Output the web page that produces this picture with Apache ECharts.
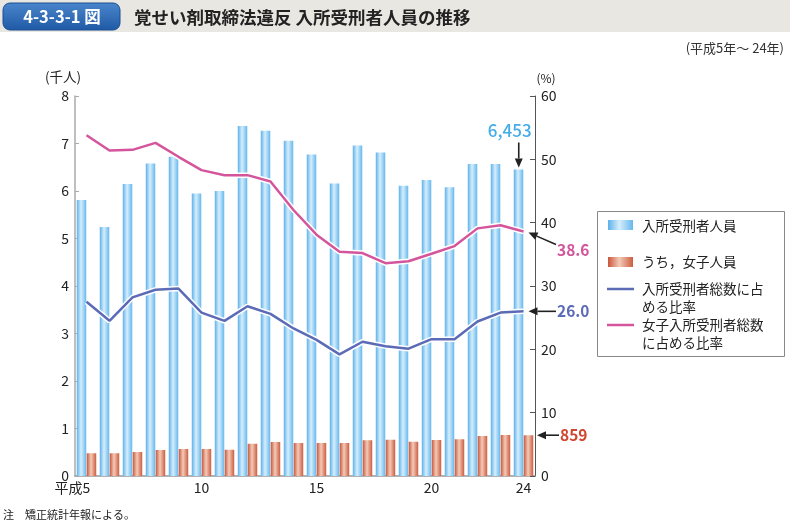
<!DOCTYPE html>
<html>
<head>
<meta charset="utf-8">
<script src="https://cdn.jsdelivr.net/npm/echarts@6/dist/echarts.min.js"></script>
<style>
  html, body { margin: 0; padding: 0; background: #fff; }
  #main { width: 792px; height: 523px; }
</style>
</head>
<body>
<div id="main"></div>
<script>
// 平成5年～24年
const years = ['5', '6', '7', '8', '9', '10', '11', '12', '13', '14', '15', '16', '17', '18', '19', '20', '21', '22', '23', '24'];
// 入所受刑者人員（千人）
const inmates = [5.81, 5.24, 6.15, 6.58, 6.72, 5.95, 6.00, 7.37, 7.27, 7.06, 6.77, 6.16, 6.96, 6.81, 6.11, 6.23, 6.08, 6.57, 6.57, 6.453];
// うち、女子人員（千人）
const female = [0.478, 0.478, 0.505, 0.547, 0.568, 0.568, 0.554, 0.680, 0.716, 0.695, 0.695, 0.695, 0.751, 0.765, 0.723, 0.758, 0.772, 0.842, 0.863, 0.859];
// 入所受刑者総数に占める比率（%）
const totalRatio = [27.5, 24.5, 28.2, 29.4, 29.6, 25.8, 24.5, 26.8, 25.6, 23.3, 21.5, 19.2, 21.2, 20.5, 20.1, 21.6, 21.6, 24.4, 25.8, 26.0];
// 女子入所受刑者総数に占める比率（%）
const femaleRatio = [53.8, 51.4, 51.5, 52.6, 50.4, 48.3, 47.5, 47.5, 46.5, 42.0, 38.1, 35.4, 35.2, 33.6, 33.9, 35.1, 36.3, 39.1, 39.6, 38.6];
const shownLabels = [0, 5, 10, 15, 19];

const FONT = '"Noto Sans CJK JP", "Noto Sans", sans-serif';
const BLUE_LINE = '#5b6bb6';
const PINK_LINE = '#d4559b';

function barGrad(c1, c2, c3) {
  return new echarts.graphic.LinearGradient(0, 0, 1, 0, [
    { offset: 0, color: c1 },
    { offset: 0.45, color: c2 },
    { offset: 1, color: c3 }
  ]);
}
const blueGrad = () => barGrad('#5cb0ea', '#d6eefc', '#66b8ee');
const redGrad = () => barGrad('#c9553a', '#f3cbb8', '#cd5c40');

const chart = echarts.init(document.getElementById('main'));

const option = {
  animation: false,
  textStyle: { fontFamily: FONT },
  grid: { left: 75, right: 257, top: 96, bottom: 47 },
  xAxis: {
    type: 'category',
    data: years,
    axisLine: { lineStyle: { color: '#999', width: 1.5 } },
    axisTick: { show: false },
    axisLabel: {
      interval: function (i) { return shownLabels.indexOf(i) >= 0; },
      color: '#222',
      fontSize: 14,
      margin: 5,
      formatter: function (v) { return v === '5' ? '{p|平成}5{q|}' : v; },
      rich: {
        p: { fontSize: 14, color: '#222', fontFamily: FONT },
        q: { width: 28 }
      }
    }
  },
  yAxis: [
    {
      type: 'value', min: 0, max: 8, interval: 1,
      axisLine: { show: true, lineStyle: { color: '#aaa', width: 1.5 } },
      axisTick: { show: true, inside: true, length: 4, lineStyle: { color: '#aaa' } },
      axisLabel: { color: '#222', fontSize: 14, margin: 6 },
      splitLine: { show: false }
    },
    {
      type: 'value', min: 0, max: 60, interval: 10,
      position: 'right',
      axisLine: { show: true, lineStyle: { color: '#555', width: 1 } },
      axisTick: { show: true, inside: true, length: 5, lineStyle: { color: '#555' } },
      axisLabel: { color: '#222', fontSize: 14, margin: 6 },
      splitLine: { show: false }
    }
  ],
  series: [
    {
      name: '入所受刑者人員', type: 'bar', data: inmates,
      barWidth: 9.5, barGap: '5%',
      itemStyle: { color: blueGrad() }
    },
    {
      name: 'うち，女子人員', type: 'bar', data: female,
      barWidth: 9.5,
      itemStyle: { color: redGrad() }
    },
    {
      type: 'line', yAxisIndex: 1, data: totalRatio, symbol: 'none', silent: true,
      lineStyle: { color: '#fff', width: 5.5 }, z: 3
    },
    {
      type: 'line', yAxisIndex: 1, data: femaleRatio, symbol: 'none', silent: true,
      lineStyle: { color: '#fff', width: 5.5 }, z: 3
    },
    {
      name: '入所受刑者総数に占める比率', type: 'line', yAxisIndex: 1, data: totalRatio,
      symbol: 'none', lineStyle: { color: BLUE_LINE, width: 2.5 }, z: 4
    },
    {
      name: '女子入所受刑者総数に占める比率', type: 'line', yAxisIndex: 1, data: femaleRatio,
      symbol: 'none', lineStyle: { color: PINK_LINE, width: 2.5 }, z: 4
    }
  ]
};
chart.setOption(option);

// 矢印
function arrow(x1, y1, x2, y2) {
  const ang = Math.atan2(y2 - y1, x2 - x1);
  const L = 9, W = 4;
  const bx = x2 - L * Math.cos(ang), by = y2 - L * Math.sin(ang);
  const px = -Math.sin(ang) * W, py = Math.cos(ang) * W;
  return [
    { type: 'line', shape: { x1: x1, y1: y1, x2: bx, y2: by }, style: { stroke: '#222', lineWidth: 1.6 }, z: 20 },
    { type: 'polygon', shape: { points: [[x2, y2], [bx + px, by + py], [bx - px, by - py]] }, style: { fill: '#222' }, z: 20 }
  ];
}
function txt(x, y, s, opt) {
  return {
    type: 'text', x: x, y: y, z: 20,
    style: Object.assign({ text: s, fill: '#222', font: '13.5px ' + FONT, textVerticalAlign: 'middle' }, opt || {})
  };
}

const n = years.length - 1;
const pBlue = chart.convertToPixel({ xAxisIndex: 0, yAxisIndex: 0 }, [n, inmates[n]]);
const pRed = chart.convertToPixel({ xAxisIndex: 0, yAxisIndex: 0 }, [n, female[n]]);
const pTot = chart.convertToPixel({ xAxisIndex: 0, yAxisIndex: 1 }, [n, totalRatio[n]]);
const pFem = chart.convertToPixel({ xAxisIndex: 0, yAxisIndex: 1 }, [n, femaleRatio[n]]);
const axisRight = 535;

let g = [];
// タイトル帯
g.push({ type: 'rect', shape: { x: 0, y: 0, width: 790, height: 32 }, style: { fill: '#e8e7e1' }, z: 0 });
g.push({
  type: 'rect', shape: { x: 3, y: 3, width: 117, height: 27, r: 7 },
  style: {
    fill: new echarts.graphic.LinearGradient(0, 0, 0, 1, [
      { offset: 0, color: '#4a86cc' }, { offset: 1, color: '#1f59a5' }
    ]),
    stroke: '#1b4e93', lineWidth: 1
  }, z: 1
});
g.push(txt(62, 17, '4-3-3-1 図', { fill: '#fff', font: 'bold 16.5px ' + FONT, textAlign: 'center' }));
g.push(txt(134, 17, '覚せい剤取締法違反 入所受刑者人員の推移', { font: 'bold 17.5px ' + FONT }));
g.push(txt(784, 48, '(平成5年～ 24年)', { font: '13px ' + FONT, textAlign: 'right', fill: '#333' }));
// 軸名
g.push(txt(63, 77, '(千人)', { font: '13.5px ' + FONT, textAlign: 'center' }));
g.push(txt(546, 78, '(%)', { font: '12px ' + FONT, textAlign: 'center' }));
// 注
g.push(txt(3, 515, '注　矯正統計年報による。', { font: '11px ' + FONT }));

// 注記
const bx = pBlue[0] - 4.75;
g = g.concat(arrow(bx, pBlue[1] - 27, bx, pBlue[1] - 2));
g.push(txt(bx - 9, pBlue[1] - 39, '6,453', { fill: '#45ace8', font: '500 17px ' + FONT, textAlign: 'center' }));
g = g.concat(arrow(556, pFem[1] + 13, pFem[0] + 5, pFem[1] + 1));
g.push(txt(557, pFem[1] + 19, '38.6', { fill: PINK_LINE, font: 'bold 15.5px ' + FONT }));
g = g.concat(arrow(556, pTot[1], pTot[0] + 5, pTot[1]));
g.push(txt(557, pTot[1], '26.0', { fill: BLUE_LINE, font: 'bold 15.5px ' + FONT }));
g = g.concat(arrow(559, pRed[1], axisRight + 2, pRed[1]));
g.push(txt(560, pRed[1], '859', { fill: '#d2452f', font: 'bold 15.5px ' + FONT }));

// 凡例
g.push({ type: 'rect', shape: { x: 597.5, y: 211.5, width: 187, height: 145 }, style: { fill: '#fff', stroke: '#888', lineWidth: 1 }, z: 10 });
g.push({ type: 'rect', shape: { x: 608, y: 220, width: 25, height: 10 }, style: { fill: blueGrad() }, z: 11 });
g.push(txt(642, 226, '入所受刑者人員'));
g.push({ type: 'rect', shape: { x: 608, y: 257, width: 25, height: 10 }, style: { fill: redGrad() }, z: 11 });
g.push(txt(642, 262, 'うち，女子人員'));
g.push({ type: 'line', shape: { x1: 607, y1: 289, x2: 634, y2: 289 }, style: { stroke: BLUE_LINE, lineWidth: 2.5 }, z: 11 });
g.push(txt(642, 289, '入所受刑者総数に占'));
g.push(txt(642, 307, 'める比率'));
g.push({ type: 'line', shape: { x1: 607, y1: 325, x2: 634, y2: 325 }, style: { stroke: PINK_LINE, lineWidth: 2.5 }, z: 11 });
g.push(txt(642, 325, '女子入所受刑者総数'));
g.push(txt(642, 343, 'に占める比率'));

chart.setOption({ graphic: g });
</script>
</body>
</html>
